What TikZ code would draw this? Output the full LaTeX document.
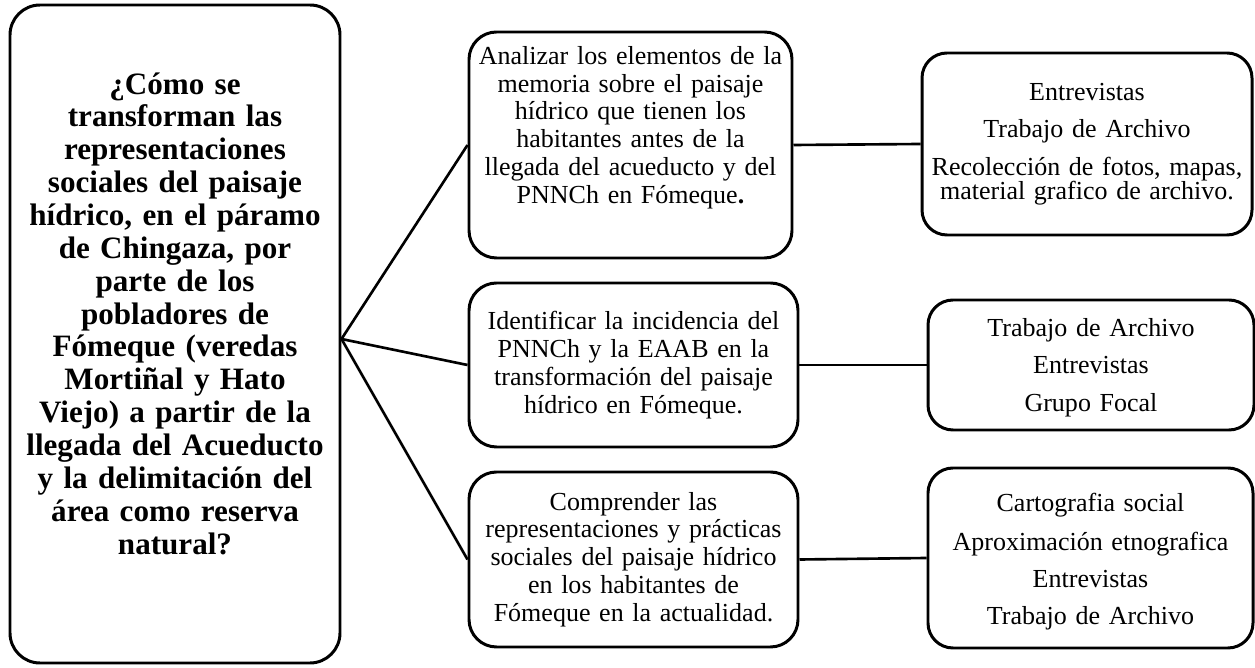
\documentclass[tikz,border=0pt]{standalone}
\usepackage{fontspec}
\setmainfont{Liberation Serif}
\usetikzlibrary{positioning}
\tikzstyle{pregunta} = [draw=black, line width=1.7pt, rounded corners=0.6cm, text width=6.3cm, align=center, inner sep=0pt, font=\fontsize{17.7pt}{18.7pt}\selectfont\bfseries, execute at begin node=\setlength{\lineskiplimit}{-20pt}]
\tikzstyle{objetivo} = [draw=black, line width=1.7pt, rounded corners=0.55cm, text width=6.3cm, align=center, inner sep=0pt, font=\fontsize{14.8pt}{15.8pt}\selectfont]
\tikzstyle{tecnica} = [draw=black, line width=1.7pt, rounded corners=0.5cm, text width=6.4cm, align=center, inner sep=0pt, font=\fontsize{14.8pt}{13.6pt}\selectfont]
\tikzstyle{linea} = [line width=1.5pt]
\newcommand{\espacio}[1]{\par\vspace{#1}\hrule height 0pt}

\begin{document}
\begin{tikzpicture}
			\useasboundingbox (0,0) rectangle (25.1,13.36);
			% pregunta
			\coordinate (Q) at (3.5,6.68);
			% objetivos
			\coordinate (O1) at (12.61,10.46);
			\coordinate (O2) at (12.67,6.06);
			\coordinate (O3) at (12.67,2.17);
			% tecnicas
			\coordinate (T1) at (21.74,10.48);
			\coordinate (T2) at (21.82,6.06);
			\coordinate (T3) at (21.81,2.2);
			\node[pregunta, name=Q, minimum width=6.6cm, minimum height=13.16cm] at (Q) {¿Cómo se\\ transforman las\\ representaciones\\ sociales del paisaje\\ hídrico, en el páramo\\ de Chingaza, por\\ parte de los\\ pobladores de\\ Fómeque (veredas\\ Mortiñal y Hato\\ Viejo) a partir de la\\ llegada del Acueducto\\ y la delimitación del\\ área como reserva\\ natural?\espacio{0.82cm}};
			\node[objetivo, name=O1, minimum width=6.46cm, minimum height=4.52cm] at (O1) {Analizar los elementos de la\\ memoria sobre el paisaje\\ hídrico que tienen los\\ habitantes antes de la\\ llegada del acueducto y del\\ PNNCh en Fómeque\textbf{.}\espacio{0.7cm}};
			\node[objetivo, name=O2, minimum width=6.58cm, minimum height=3.28cm] at (O2) {Identificar la incidencia del\\ PNNCh y la EAAB en la\\ transformación del paisaje\\ hídrico en Fómeque.};
			\node[objetivo, name=O3, minimum width=6.58cm, minimum height=3.5cm] at (O3) {Comprender las\\ representaciones y prácticas\\ sociales del paisaje hídrico\\ en los habitantes de\\ Fómeque en la actualidad.};
			\node[tecnica, name=T1, minimum width=6.6cm, minimum height=3.64cm] at (T1) {Entrevistas\\[7.8pt] Trabajo de Archivo\\[7.8pt] Recolección de fotos, mapas,\\ material grafico de archivo.};
			\node[tecnica, name=T2, minimum width=6.52cm, minimum height=2.6cm] at (T2) {Trabajo de Archivo\\[7.8pt] Entrevistas\\[7.8pt] Grupo Focal\espacio{-0.1cm}};
			\node[tecnica, name=T3, minimum width=6.5cm, minimum height=3.6cm] at (T3) {Cartografia social\\[7.4pt] Aproximación etnografica\\[7.4pt] Entrevistas\\[7.4pt] Trabajo de Archivo\espacio{-0.14cm}};
			% conectores
			\coordinate (J) at ([yshift=-0.1cm]Q.east);
			\draw[linea] (J) -- (O1.west);
			\draw[linea] (J) -- (O2.west);
			\draw[linea] (J) -- (O3.west);
			\draw[linea] (O1.east) -- (T1.west);
			\draw[linea] (O2.east) -- (T2.west);
			\draw[linea] (O3.east) -- (T3.west);
\end{tikzpicture}
\end{document}
